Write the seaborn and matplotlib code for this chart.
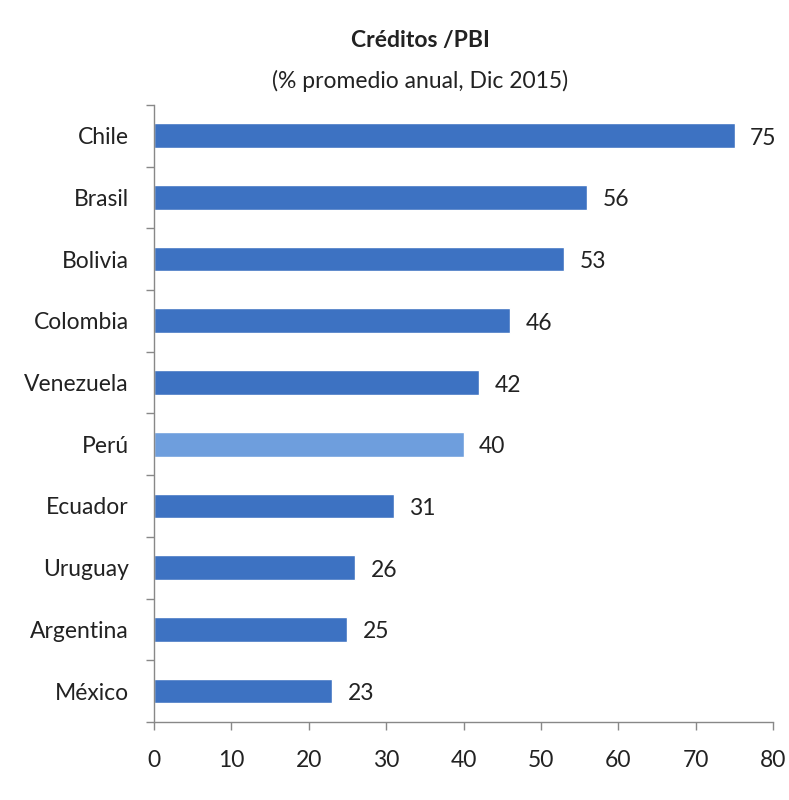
import matplotlib
matplotlib.use("Agg")
import matplotlib.pyplot as plt
from matplotlib.ticker import FixedLocator
import seaborn as sns
import pandas as pd

paises = ["Chile", "Brasil", "Bolivia", "Colombia", "Venezuela", "Perú",
          "Ecuador", "Uruguay", "Argentina", "México"]
creditos = [75, 56, 53, 46, 42, 40, 31, 26, 25, 23]
colores = ["#3D72C2", "#3D72C2", "#3D72C2", "#3D72C2", "#3D72C2", "#6E9EDD",
           "#3D72C2", "#3D72C2", "#3D72C2", "#3D72C2"]
xticks = [0, 10, 20, 30, 40, 50, 60, 70, 80]

sns.set_theme(style="white")
plt.rcParams["font.family"] = ["Lato", "DejaVu Sans"]

df = pd.DataFrame({"pais": paises, "valor": creditos})

fig = plt.figure(figsize=(7.89, 8.0), dpi=100)
ax = fig.add_axes([0.195, 0.0975, 0.785, 0.7715])

sns.barplot(data=df, x="valor", y="pais", hue="pais", palette=colores,
            legend=False, width=0.4, ax=ax, saturation=1)

for p, v in zip(ax.patches, creditos):
    y = p.get_y() + p.get_height() / 2
    ax.text(v + 2.0, y + 0.04, f"{v}", va="center", ha="left", fontsize=16.5,
            color="#222222")

ax.set_xlim(0, 80)
ax.set_ylim(len(paises) - 0.5, -0.5)
ax.set_xticks(xticks)
ax.set_xticklabels([str(t) for t in xticks], fontsize=16.5, color="#222222")
ax.set_yticks(range(len(paises)))
ax.set_yticklabels(paises, fontsize=16.5, color="#222222")
ax.yaxis.set_minor_locator(FixedLocator([i - 0.5 for i in range(len(paises) + 1)]))
ax.tick_params(axis="y", which="major", length=0, pad=18)
ax.tick_params(axis="y", which="minor", length=6, color="#888888", width=1, left=True)
ax.tick_params(axis="x", which="major", length=6, color="#888888", width=1,
               bottom=True, pad=14)
ax.set_xlabel("")
ax.set_ylabel("")

for s in ["top", "right"]:
    ax.spines[s].set_visible(False)
for s in ["left", "bottom"]:
    ax.spines[s].set_color("#888888")
    ax.spines[s].set_linewidth(1)

fig.text(0.533, 0.949, "Créditos /PBI", ha="center", va="center",
         fontsize=16.5, fontweight="bold", color="#222222")
fig.text(0.533, 0.899, "(% promedio anual, Dic 2015)", ha="center", va="center",
         fontsize=16.5, color="#222222")

fig.savefig("out.png", dpi=100)
